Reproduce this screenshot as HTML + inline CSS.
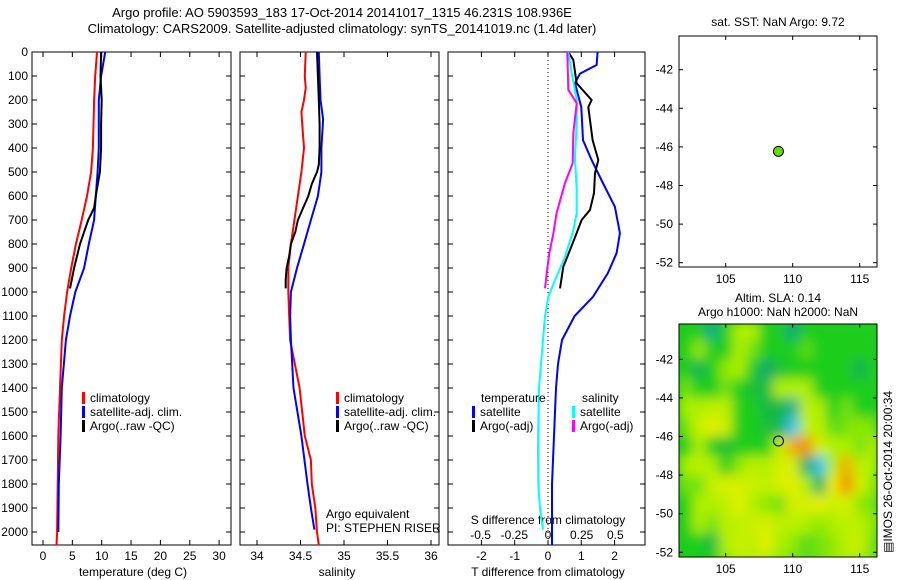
<!DOCTYPE html>
<html><head><meta charset="utf-8">
<style>
html,body{margin:0;padding:0;background:#fff;}
svg{display:block;font-family:"Liberation Sans",sans-serif;}
text{font-size:12px;fill:#000;}
</style></head>
<body>
<svg id="fig" width="900" height="580" viewBox="0 0 900 580" xmlns="http://www.w3.org/2000/svg">
<defs>
<filter id="blur" x="-5%" y="-5%" width="110%" height="110%"><feGaussianBlur stdDeviation="6"/></filter>
<clipPath id="mapclip"><rect x="679" y="324" width="198" height="233"/></clipPath>
</defs>
<text x="342" y="17" text-anchor="middle" style="font-size:13px">Argo profile: AO 5903593_183 17-Oct-2014 20141017_1315 46.231S 108.936E</text>
<text x="342" y="33" text-anchor="middle" style="font-size:13px">Climatology: CARS2009. Satellite-adjusted climatology: synTS_20141019.nc (1.4d later)</text>
<g id="g"></g>
</svg>
<script>
// ---- data ----
const tempClimDepth=[0,100,200,400,500,600,700,800,900,1000,1100,1200,1400,1600,1800,2000,2055];
const tempClim=[9.2,8.9,8.7,8.5,8.2,7.5,6.6,5.6,4.8,4.1,3.6,3.2,2.9,2.6,2.5,2.4,2.3];
const tempSatDepth=[0,100,200,400,500,600,700,800,900,1000,1100,1200,1400,1600,1800,2000];
const tempSat=[10.6,9.9,9.5,9.5,9.3,9.0,8.7,7.8,7.0,5.5,4.6,3.9,3.2,3.0,2.7,2.6];
const tempArgoDepth=[0,100,200,300,400,500,600,650,700,800,900,985];
const tempArgo=[9.9,9.8,10.0,9.9,9.9,9.7,9.0,8.7,7.7,6.3,5.3,4.6];

const salClimDepth=[0,100,150,200,250,300,400,500,600,700,800,900,1000,1100,1200,1400,1500,1600,1700,1800,1900,2000,2055];
const salClim=[34.56,34.55,34.56,34.54,34.51,34.52,34.54,34.51,34.47,34.43,34.39,34.36,34.36,34.37,34.38,34.49,34.52,34.55,34.62,34.63,34.67,34.69,34.71];
const salSatDepth=[0,100,200,280,400,500,600,700,800,900,1000,1100,1200,1400,1600,1800,1900,1990];
const salSat=[34.71,34.72,34.73,34.76,34.74,34.74,34.70,34.62,34.54,34.46,34.39,34.38,34.39,34.42,34.51,34.58,34.62,34.66];
const salArgoDepth=[0,100,200,300,400,470,500,550,600,650,700,750,800,850,900,950,985];
const salArgo=[34.69,34.70,34.71,34.72,34.72,34.71,34.69,34.63,34.59,34.53,34.47,34.44,34.39,34.37,34.34,34.33,34.33];

const tDiffSatDepth=[0,54,90,130,230,367,450,546,645,755,838,921,1020,1100,1200,1300,1400,1600,1800,2000,2055];
const tDiffSat=[1.49,1.46,0.96,0.81,1.0,1.05,1.31,1.65,2.01,2.16,2.06,1.8,1.35,0.8,0.42,0.3,0.24,0.18,0.12,0.12,0.12];
const tDiffArgoDepth=[0,33,130,200,229,367,450,505,588,658,700,755,825,895,985];
const tDiffArgo=[0.61,0.76,0.86,1.31,1.21,1.34,1.51,1.41,1.38,1.26,1.01,0.86,0.66,0.46,0.36];
const sDiffSatDepth=[0,88,200,296,438,575,671,742,854,950,1020,1100,1200,1400,1645,1800,1900,1990];
const sDiffSat=[0.151,0.176,0.213,0.213,0.200,0.213,0.213,0.188,0.126,0.052,0.002,-0.022,-0.037,-0.067,-0.074,-0.072,-0.06,-0.037];
const sDiffArgoDepth=[0,158,213,338,463,546,671,755,838,921,985];
const sDiffArgo=[0.143,0.151,0.213,0.188,0.183,0.126,0.064,0.040,0.010,-0.01,-0.022];

const depthTicks=[0,100,200,300,400,500,600,700,800,900,1000,1100,1200,1300,1400,1500,1600,1700,1800,1900,2000];
const tempTicks=[0,5,10,15,20,25,30];
const salTicks=[34,34.5,35,35.5,36];
const salTickLabels=["34","34.5","35","35.5","36"];
const tDiffTicks=[-2,-1,0,1,2];
const sDiffTicks=[-0.5,-0.25,0,0.25,0.5];
const sDiffTickLabels=["-0.5","-0.25","0","0.25","0.5"];
const lonTicks=[105,110,115];
const latTicks=[-42,-44,-46,-48,-50,-52];
const argoLon=108.936, argoLat=-46.231;
const slaLons=[102,103,104,105,106,107,108,109,110,111,112,113,114,115,116];
const slaLats=[-40.5,-41.5,-42.5,-43.5,-44.5,-45.5,-46.5,-47.5,-48.5,-49.5,-50.5,-51.5,-52.5];
const slaRows=[
[0,0,-0.8,0,0.5,0.5,0,0,-0.7,0,0,0,0,0,0],
[0,0.4,0,0,0.5,0.3,0,0,0,0.2,0,0,0,0,0],
[0,-0.4,0,0.4,0.5,0,-0.6,-0.2,0,0,0,0,0,-0.4,0],
[0.3,0,0,0.3,0,-0.2,-0.3,0.5,0.5,0.5,0,0,0,0,0],
[0.5,0.5,0.6,0.6,0,0,-0.3,-0.3,-0.9,0.6,0.5,0,0.3,0,0],
[0.3,0.7,0.9,0.7,0,0,-0.2,-0.4,-1.7,0.6,0.6,0.2,0.3,0.4,0.3],
[0,0.5,0,-0.2,0,0,0,0.6,1.4,1.6,0.8,0.5,0.5,0.3,0.5],
[0.5,0.6,0.5,0,0.4,0.6,0.5,0.8,0.8,-0.5,-1.7,0.5,1.4,0.6,0.5],
[0.3,0.3,0.7,0.8,0.8,0.7,0.6,0.8,0.9,0.5,-0.5,1.0,1.6,0.8,0.4],
[0,0.5,0.5,0.6,0.9,0.5,0.4,0.3,0.8,0.8,0.9,0.7,0.8,0.4,0.3],
[0,0.5,0.3,0.6,0.6,0.7,0.8,0.6,0.6,0.5,0.4,0.5,0.6,0.6,0.4],
[0,0,-0.3,0.5,0.7,0.6,0.9,0.5,0.4,0.2,0.3,0.4,0.6,0.7,0.3],
[0,0,0,0.4,0.6,0.5,0.6,0.4,0.3,0.2,0.3,0.4,0.5,0.5,0.3]
];

// ---- scales ----
const yD=d=>52+d*0.24;
const xT=t=>43+t*5.87;
const xS=s=>257+(s-34)*87;
const xTd=v=>548+v*33.3;
const xSd=v=>548+v*134.7;
const xLon=l=>725.7+(l-105)*13.4;
const yLatTop=l=>69.7+(-42-l)*19.3;
const yLatBot=l=>359.3+(-42-l)*19.3;

const NS="http://www.w3.org/2000/svg";
const G=document.getElementById('g');
function el(tag,attrs,parent){const e=document.createElementNS(NS,tag);for(const k in attrs)e.setAttribute(k,attrs[k]);(parent||G).appendChild(e);return e;}
function txt(x,y,s,anchor,parent){const t=el('text',{x:x,y:y,'text-anchor':anchor||'start'},parent);t.textContent=s;return t;}

function panel(name,x0,y0,x1,y1){
  const r=el('rect',{x:x0,y:y0,width:x1-x0,height:y1-y0,fill:'none',stroke:'#000','stroke-width':1});
  
  
}
function line(name,depths,vals,xf,color){
  const pts=depths.map((d,i)=>xf(vals[i]).toFixed(1)+','+yD(d).toFixed(1)).join(' ');
  const p=el('polyline',{points:pts,fill:'none',stroke:color,'stroke-width':2});
  
  
}
function tick(x1,y1,x2,y2){el('line',{x1:x1,y1:y1,x2:x2,y2:y2,stroke:'#000','stroke-width':1});}

const P=[[32,231],[240,439],[448,645]];
const Y0=52,Y1=545;
P.forEach(([a,b])=>depthTicks.forEach(d=>{tick(a,yD(d),a+5,yD(d));tick(b,yD(d),b-5,yD(d));}));
depthTicks.forEach(d=>{const t=txt(28,yD(d)+4,String(d),'end');});

// panel 1
panel('temperature-panel',32,Y0,231,Y1);
tempTicks.forEach(v=>{tick(xT(v),Y0,xT(v),Y0+5);tick(xT(v),Y1,xT(v),Y1-5);const t=txt(xT(v),560,String(v),'middle');});
line('temp-climatology-line',tempClimDepth,tempClim,xT,'#ff0000');
line('temp-satellite-line',tempSatDepth,tempSat,xT,'#0000ff');
line('temp-argo-line',tempArgoDepth,tempArgo,xT,'#000000');
txt(133,576,'temperature (deg C)','middle');

// panel 2
panel('salinity-panel',240,Y0,439,Y1);
salTicks.forEach((v,i)=>{tick(xS(v),Y0,xS(v),Y0+5);tick(xS(v),Y1,xS(v),Y1-5);const t=txt(xS(v),560,salTickLabels[i],'middle');});
line('sal-climatology-line',salClimDepth,salClim,xS,'#ff0000');
line('sal-satellite-line',salSatDepth,salSat,xS,'#0000ff');
line('sal-argo-line',salArgoDepth,salArgo,xS,'#000000');
txt(337,576,'salinity','middle');
txt(326,518,'Argo equivalent');
txt(326,532,'PI: STEPHEN RISER');

function legend(x,y,items,name){
  const g=el('g',{});
  items.forEach(([c,l],i)=>{el('rect',{x:x,y:y+i*14-10,width:3,height:12,fill:c},g);txt(x+8,y+i*14,l,'start',g);});
}
legend(82,402,[['#ff0000','climatology'],['#0000ff','satellite-adj. clim.'],['#000000','Argo(..raw -QC)']],'temp-legend');
legend(336,402,[['#ff0000','climatology'],['#0000ff','satellite-adj. clim.'],['#000000','Argo(..raw -QC)']],'sal-legend');

// panel 3
panel('difference-panel',448,Y0,645,Y1);
el('line',{x1:548,y1:Y0,x2:548,y2:Y1,stroke:'#000','stroke-width':1,'stroke-dasharray':'1,3'});
tDiffTicks.forEach(v=>{tick(xTd(v),Y0,xTd(v),Y0+5);tick(xTd(v),Y1,xTd(v),Y1-5);const t=txt(xTd(v),560,String(v),'middle');});
sDiffTicks.forEach((v,i)=>{const t=txt(xSd(v),539,sDiffTickLabels[i],'middle');});
txt(548,524,'S difference from climatology','middle');
txt(548,576,'T difference from climatology','middle');
line('tdiff-satellite-line',tDiffSatDepth,tDiffSat,xTd,'#0000ff');
line('tdiff-argo-line',tDiffArgoDepth,tDiffArgo,xTd,'#000000');
line('sdiff-satellite-line',sDiffSatDepth,sDiffSat,xSd,'#00ffff');
line('sdiff-argo-line',sDiffArgoDepth,sDiffArgo,xSd,'#ff00ff');
txt(481,402,'temperature');
txt(582,402,'salinity');
legend(472,416,[['#0000ff','satellite'],['#000000','Argo(-adj)']],'diff-legend-temperature');
legend(572,416,[['#00ffff','satellite'],['#ff00ff','Argo(-adj)']],'diff-legend-salinity');

// maps
function mapAxes(name,y0,y1,yLat){
  panel(name,679,y0,877,y1);
  lonTicks.forEach(l=>{tick(xLon(l),y0,xLon(l),y0+4);tick(xLon(l),y1,xLon(l),y1-4);const t=txt(xLon(l),y1+16,String(l),'middle');});
  latTicks.forEach(l=>{tick(679,yLat(l),683,yLat(l));tick(877,yLat(l),873,yLat(l));const t=txt(673,yLat(l)+4,String(l),'end');});
}
txt(778,26,'sat. SST: NaN Argo: 9.72','middle');
mapAxes('sst-map',36,267,yLatTop);
const dot=el('circle',{cx:xLon(argoLon),cy:yLatTop(argoLat),r:5,fill:'#66dd00',stroke:'#000','stroke-width':1});



txt(778,302,'Altim. SLA: 0.14','middle');
txt(778,316,'Argo h1000: NaN h2000: NaN','middle');
function slaColor(v){
  const stops=[[-1.7,[50,195,235]],[-0.6,[20,165,110]],[0,[30,205,30]],[0.5,[175,240,0]],[1,[240,240,0]],[1.6,[240,140,0]]];
  if(v<=stops[0][0])return 'rgb('+stops[0][1]+')';
  for(let i=1;i<stops.length;i++){if(v<=stops[i][0]){const [a,ca]=stops[i-1],[b,cb]=stops[i];const f=(v-a)/(b-a);return 'rgb('+ca.map((c,k)=>Math.round(c+(cb[k]-c)*f)).join(',')+')';}}
  return 'rgb('+stops[stops.length-1][1]+')';
}
const clipG=el('g',{'clip-path':'url(#mapclip)'});


el('rect',{x:679,y:324,width:198,height:233,fill:'#1ecd1e'},clipG);
const blurG=el('g',{filter:'url(#blur)'},clipG);
slaLats.forEach((la,r)=>slaLons.forEach((lo,c)=>{
  const x0=xLon(lo-0.5),y0=yLatBot(la+0.5);
  const cell=el('rect',{x:x0.toFixed(1),y:y0.toFixed(1),width:(xLon(lo+0.5)-x0+0.5).toFixed(1),height:(yLatBot(la-0.5)-y0+0.5).toFixed(1),fill:slaColor(slaRows[r][c])},blurG);
  
  
}));
mapAxes('sla-map',324,557,yLatBot);
const ring=el('circle',{cx:xLon(argoLon),cy:yLatBot(argoLat),r:5,fill:'none',stroke:'#000','stroke-width':1});


const im=txt(0,0,'\u25A4IMOS 26-Oct-2014 20:00:34','start');
im.setAttribute('transform','translate(892,553) rotate(-90)');


</script>
</body></html>
